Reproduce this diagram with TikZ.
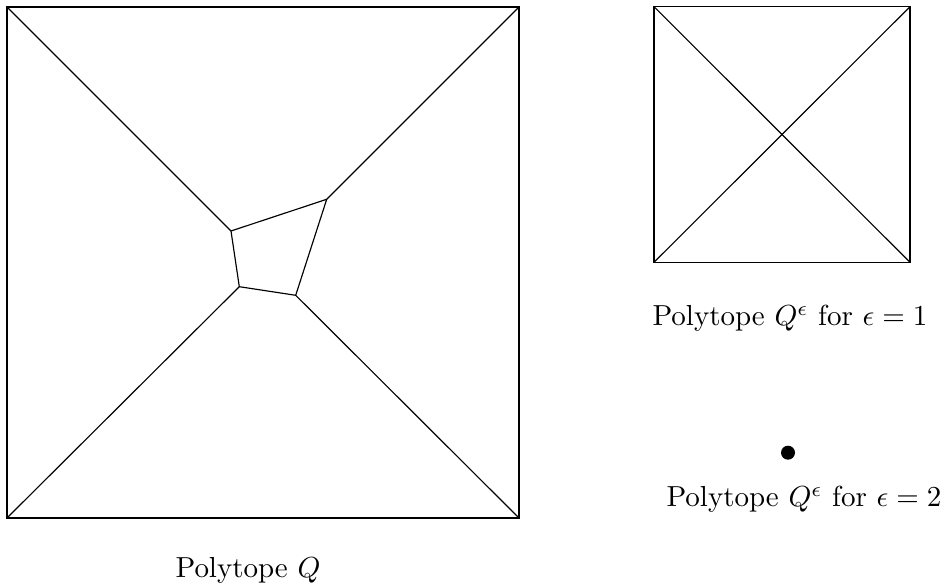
\documentclass[tikz,border=0pt]{standalone}
\begin{document}
\begin{tikzpicture}[x=0.345pt,y=-0.345pt,edge/.style={draw=black,line width=0.4pt},lbl/.style={anchor=base,inner sep=0pt}]
\useasboundingbox (0,0) rectangle (943,588);
% big polytope Q
\coordinate (tl) at (7,7);
\coordinate (tr) at (519,7);
\coordinate (br) at (519,518);
\coordinate (bl) at (7,518);
\coordinate (q1) at (231,231);
\coordinate (q2) at (326.7,199.3);
\coordinate (q3) at (295.7,295.3);
\coordinate (q4) at (239.3,286.7);
\draw[edge] (tl) -- (tr) -- (br) -- (bl) -- cycle;
\draw[edge] (q1) -- (q2) -- (q3) -- (q4) -- cycle;
\draw[edge] (tl) -- (q1);
\draw[edge] (tr) -- (q2);
\draw[edge] (br) -- (q3);
\draw[edge] (bl) -- (q4);
% small polytope
\coordinate (stl) at (654,6.7);
\coordinate (str) at (910,6.7);
\coordinate (sbr) at (910,262.3);
\coordinate (sbl) at (654,262.3);
\draw[edge] (stl) -- (str) -- (sbr) -- (sbl) -- cycle;
\draw[edge] (stl) -- (sbr);
\draw[edge] (str) -- (sbl);
% dot
\fill (788,452.7) circle (7);
% labels
\node[lbl] (l1) at (790,326) {Polytope $Q^\epsilon$ for $\epsilon=1$};
\node[lbl] (l2) at (804,507) {Polytope $Q^\epsilon$ for $\epsilon=2$};
\node[lbl] (l3) at (248,577) {Polytope $Q$};
\end{tikzpicture}
\end{document}
